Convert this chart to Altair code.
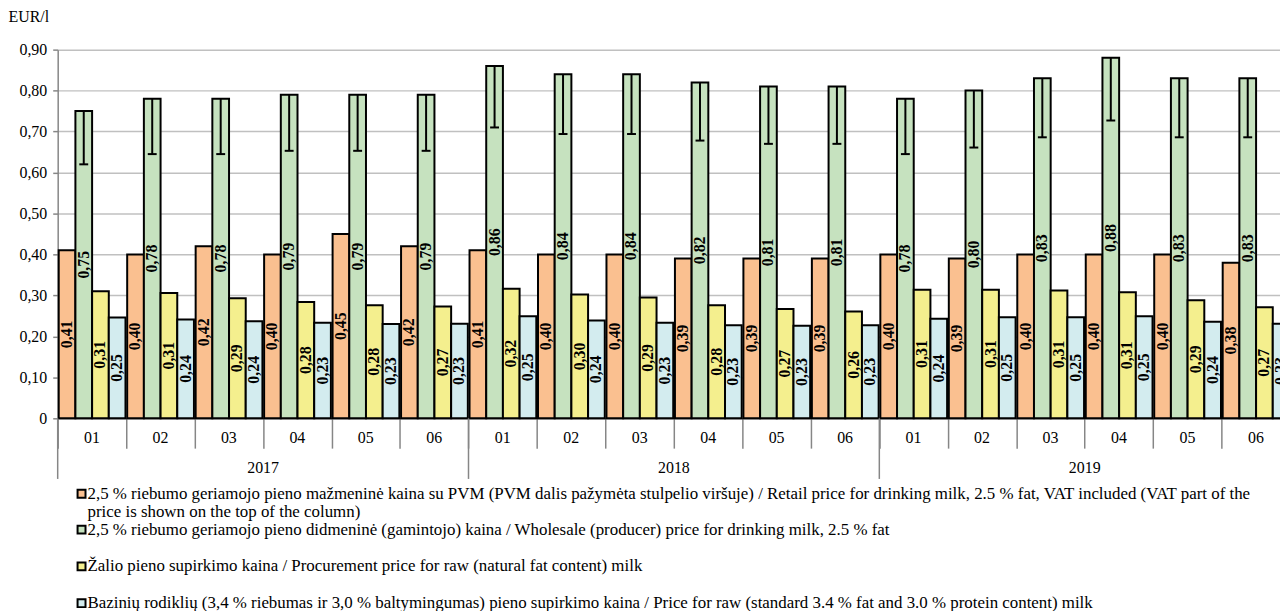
import altair as alt
import pandas as pd

FONT = "Liberation Serif"

years = ["2017", "2018", "2019"]
months = ["01", "02", "03", "04", "05", "06"]

legend_lines = [
    ["2,5 % riebumo geriamojo pieno mažmeninė kaina su PVM (PVM dalis pažymėta stulpelio viršuje) / Retail price for drinking milk, 2.5 % fat, VAT included (VAT part of the",
     "price is shown on the top of the column)"],
    ["2,5 % riebumo geriamojo pieno didmeninė (gamintojo) kaina / Wholesale (producer) price for drinking milk, 2.5 % fat"],
    ["Žalio pieno supirkimo kaina / Procurement price for raw (natural fat content) milk"],
    ["Bazinių rodiklių (3,4 % riebumas ir 3,0 % baltymingumas) pieno supirkimo kaina / Price for raw (standard 3.4 % fat and 3.0 % protein content) milk"],
]
series_keys = ["retail", "wholesale", "raw", "base"]
colors = ["#FAC090", "#C6E2BF", "#F4EF8E", "#D3ECEF"]

# 2017-01..06, 2018-01..06, 2019-01..06
retail = [0.41, 0.40, 0.42, 0.40, 0.45, 0.42,
          0.41, 0.40, 0.40, 0.39, 0.39, 0.39,
          0.40, 0.39, 0.40, 0.40, 0.40, 0.38]
wholesale = [0.75, 0.78, 0.78, 0.79, 0.79, 0.79,
             0.86, 0.84, 0.84, 0.82, 0.81, 0.81,
             0.78, 0.80, 0.83, 0.88, 0.83, 0.83]
vat_low = [0.620, 0.645, 0.645, 0.653, 0.653, 0.653,
           0.710, 0.694, 0.694, 0.678, 0.670, 0.670,
           0.645, 0.661, 0.686, 0.727, 0.686, 0.686]
raw = [0.310, 0.306, 0.293, 0.284, 0.276, 0.273,
       0.316, 0.302, 0.295, 0.276, 0.267, 0.261,
       0.314, 0.314, 0.312, 0.308, 0.288, 0.271]
base = [0.246, 0.241, 0.237, 0.233, 0.230, 0.231,
        0.249, 0.239, 0.233, 0.227, 0.226, 0.227,
        0.243, 0.247, 0.247, 0.249, 0.236, 0.231]

n_groups = len(years) * len(months)
bar_w = 0.2438
bar_off = 0.015

rows = []
for g in range(n_groups):
    for k, vals in enumerate([retail, wholesale, raw, base]):
        x0 = g + bar_off + k * bar_w
        rows.append({"g": g, "series": series_keys[k], "v": vals[g],
                     "x0": x0, "x1": x0 + bar_w, "xc": x0 + bar_w / 2})
df = pd.DataFrame(rows)

vat = pd.DataFrame({
    "xc": [g + bar_off + 1.5 * bar_w for g in range(n_groups)],
    "top": wholesale,
    "low": vat_low,
})
vat["c0"] = vat["xc"] - 0.065
vat["c1"] = vat["xc"] + 0.065

month_df = pd.DataFrame({"pos": [g + 0.5 for g in range(n_groups)],
                         "lab": [months[g % 6] for g in range(n_groups)]})
year_df = pd.DataFrame({"pos": [3, 9, 15], "lab": years})
sep_df = pd.DataFrame({"p": [0, 6, 12, 18]})

GRAY = "#868686"
xscale = alt.Scale(domain=[0, 17.852], nice=False, zero=False)
yscale = alt.Scale(domain=[0, 0.9], nice=False)

xaxis = alt.Axis(values=list(range(n_groups)), labels=False, ticks=True, tickSize=30,
                 tickColor=GRAY, tickWidth=1.5, domainColor=GRAY, domainWidth=1.5,
                 grid=False, title=None)
yaxis = alt.Axis(values=[round(i * 0.1, 1) for i in range(10)],
                 labelExpr="datum.value == 0 ? '0' : replace(format(datum.value, '.2f'), '.', ',')",
                 labelFont=FONT, labelFontSize=16, labelColor="black", labelPadding=6,
                 tickSize=5, tickColor=GRAY, tickWidth=1.5, domainColor=GRAY, domainWidth=1.5,
                 gridColor="#C0C0C0", gridWidth=1.5,
                 title="EUR/l", titleAngle=0, titleAlign="left", titleBaseline="middle",
                 titleX=-50, titleY=-33, titleFont=FONT, titleFontSize=16,
                 titleFontWeight="normal", titleColor="black")


def X(field):
    return alt.X(field, scale=xscale, axis=xaxis)


def Y(field):
    return alt.Y(field, scale=yscale, axis=yaxis)


bars = alt.Chart(df).mark_bar(stroke="black", strokeWidth=2).encode(
    x=X("x0:Q"),
    x2="x1:Q",
    y=Y("v:Q"),
    y2=alt.datum(0),
    color=alt.Color("series:N", scale=alt.Scale(domain=series_keys, range=colors), legend=None),
)

labels = alt.Chart(df).transform_calculate(
    mid="datum.v / 2",
    lab="replace(format(datum.v, '.2f'), '.', ',')",
).mark_text(angle=270, font=FONT, fontWeight="bold", fontSize=16, color="black",
            align="center", baseline="middle").encode(
    x=X("xc:Q"),
    y=Y("mid:Q"),
    text="lab:N",
)

vat_line = alt.Chart(vat).mark_rule(color="black", strokeWidth=2).encode(
    x=X("xc:Q"), y=Y("top:Q"), y2="low:Q")
vat_cap = alt.Chart(vat).mark_rule(color="black", strokeWidth=2).encode(
    x=X("c0:Q"), x2="c1:Q", y=Y("low:Q"))

year_sep = alt.Chart(sep_df).mark_rule(color=GRAY, strokeWidth=1.5).encode(
    x=X("p:Q"), y=alt.value(371), y2=alt.value(432))

month_text = alt.Chart(month_df).mark_text(font=FONT, fontSize=16, color="black",
                                           baseline="middle").encode(
    x=X("pos:Q"), y=alt.value(391), text="lab:N")
year_text = alt.Chart(year_df).mark_text(font=FONT, fontSize=16, color="black",
                                         baseline="middle").encode(
    x=X("pos:Q"), y=alt.value(421), text="lab:N")

legend_layers = []
leg_y = [447, 483, 520, 557]
for i, lines in enumerate(legend_lines):
    legend_layers.append(
        alt.Chart(pd.DataFrame({"k": [0]})).mark_point(
            shape="square", size=64, filled=True, fill=colors[i], stroke="black",
            strokeWidth=2, opacity=1).encode(x=alt.value(24), y=alt.value(leg_y[i]))
    )
    legend_layers.append(
        alt.Chart(pd.DataFrame({"k": [0]})).mark_text(
            font=FONT, fontSize=17, color="black", align="left", baseline="middle",
            lineHeight=18, text=lines if len(lines) > 1 else lines[0]).encode(
            x=alt.value(30), y=alt.value(leg_y[i]))
    )

chart = alt.layer(bars, labels, vat_line, vat_cap, year_sep, month_text, year_text,
                  *legend_layers).properties(
    width=1230, height=371,
    autosize=alt.AutoSizeParams(type="none"),
    padding={"left": 50, "top": 40, "right": 0, "bottom": 192},
).configure_view(stroke=None)

chart.save("out.html", embed_options={"renderer": "svg", "actions": False})
